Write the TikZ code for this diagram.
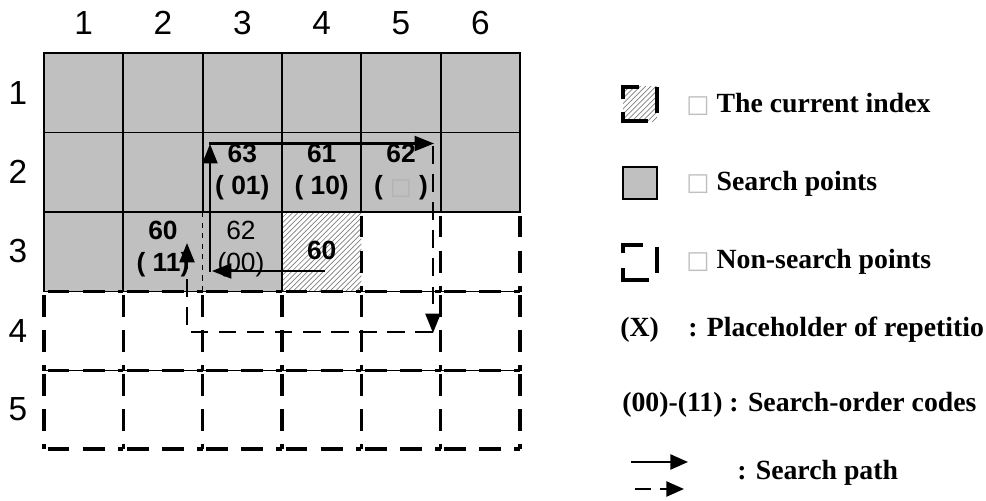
\documentclass[tikz,border=0pt]{standalone}
\usepackage{fontspec}
\setmainfont{Liberation Serif}
\newfontfamily\arialf{Liberation Sans}
\newfontfamily\dejavuf{DejaVu Sans}
\usetikzlibrary{arrows.meta,patterns}
\definecolor{cellgray}{RGB}{192,192,192}
\begin{document}
\begin{tikzpicture}[x=0.02cm,y=-0.02cm,
  lab/.style={font=\arialf\fontsize{19}{22}\selectfont, inner sep=0pt},
  cellb/.style={font=\arialf\bfseries\fontsize{15}{18.7}\selectfont, align=center, inner sep=0pt},
  cellr/.style={font=\arialf\fontsize{15}{18.7}\selectfont, align=center, inner sep=0pt},
  leg/.style={font=\bfseries\fontsize{15.8}{18}\selectfont, anchor=west, inner sep=0pt},
  solidgrid/.style={line width=1.1pt},
  dgrid/.style={line width=1.8pt, dash pattern=on 12.5pt off 7.5pt, dash phase=-2pt},
  thinline/.style={line width=0.5pt},
  legline/.style={line width=1.9pt},
  pathsolid/.style={line width=1.2pt, -{Triangle[length=11pt,width=8.5pt]}},
  pathdash/.style={line width=1.4pt, dash pattern=on 10pt off 6pt, -{Triangle[length=11pt,width=8.5pt]}}]
\clip (0,0) rectangle (986,500);
\fill[white] (0,0) rectangle (986,500);

% fills
\fill[cellgray] (44,53) rectangle (520,212);
\fill[cellgray] (44,212) rectangle (282,291.5);
\fill[pattern=north east lines, pattern color=gray] (282,212) rectangle (361.33,291.5);

% thin connecting lines under inner dashed borders
\draw[thinline] (44,291.5) -- (520,291.5);
\draw[thinline] (44,370.5) -- (520,370.5);

% dashed borders (non-search points)
\foreach \x in {361.33,440.67,520}
  \draw[dgrid] (\x,212) -- (\x,291.5);
\foreach \ya/\yb in {291.5/370.5,370.5/449}
  \foreach \x in {44,123.33,202.67,282,361.33,440.67,520}
    \draw[dgrid] (\x,\ya) -- (\x,\yb);
\foreach \y in {291.5,370.5,449}
  \foreach \xa/\xb in {44/123.33,123.33/202.67,202.67/282,282/361.33,361.33/440.67,440.67/520}
    \draw[dgrid] (\xa,\y) -- (\xb,\y);

% solid grid (search points)
\draw[solidgrid] (44,53) rectangle (520,212);
\draw[solidgrid] (44,132.5) -- (520,132.5);
\foreach \x in {123.33,202.67,282,361.33,440.67}
  \draw[solidgrid] (\x,53) -- (\x,212);
\foreach \x in {44,123.33,282}
  \draw[solidgrid] (\x,212) -- (\x,291.5);
\draw[solidgrid] (202.67,291.5) -- (282,291.5);
\draw[thinline, dashed] (202.67,212) -- (202.67,291.5);

% axis labels
\foreach \i/\x in {1/83.7,2/163,3/242.3,4/321.7,5/401,6/480.3}
  \node[lab] (c\i) at (\x,23) {\i};
\foreach \j/\y in {1/92.6,2/172,3/251.5,4/331,5/409.5}
  \node[lab] (r\j) at (18,\y) {\j};

% cell texts
\node[cellb] (t23) at (242.3,172) {63\\( 01)};
\node[cellb] (t24) at (321.7,172) {61\\( 10)};
\node[cellb] (t25) at (401,172) {62\\( {\dejavuf\mdseries\color{gray!60}\fontsize{13}{14}\selectfont □} )};
\node[cellb] (t32) at (163,249) {60\\( 11)};
\node[cellr] (t33) at (241,249) {62\\(00)};
\node[cellb] (t34) at (321.7,250) {60};

% search path
\coordinate (p1) at (325,271);
\coordinate (p2) at (212,271);
\coordinate (p3) at (210,272);
\coordinate (p4) at (210,144);
\coordinate (p5) at (209,143.5);
\coordinate (p6) at (434,143.5);
\coordinate (p7) at (433,146);
\coordinate (p8) at (433,333);
\coordinate (p9) at (433,332);
\coordinate (p10) at (187,332);
\coordinate (p11) at (187,243);
\draw[pathsolid] (p1) -- (p2);
\draw[pathsolid] (p3) -- (p4);
\draw[pathsolid] (p5) -- (p6);
\draw[pathdash] (p7) -- (p8);
\draw[pathdash] (p9) -- (p10) -- (p11);

% legend icons
\fill[pattern=north east lines, pattern color=gray] (623,87) rectangle (657,121);
\draw[legline] (623,99) -- (623,87) -- (639,87);
\draw[legline] (623,112) -- (623,121) -- (648,121);
\draw[legline] (657,87) -- (657,113);
\draw[line width=1.3pt, fill=cellgray] (623,167) rectangle (657,199);
\draw[legline] (623,253) -- (623,245) -- (643,245);
\draw[legline] (623,268) -- (623,280) -- (649,280);
\draw[legline] (657,247) -- (657,273);

% legend texts
\node[leg] (l1) at (686,104) {{\dejavuf\mdseries\color{gray!50}\fontsize{14}{14}\selectfont □}\hspace{4pt}The current index};
\node[leg] (l2) at (686,184) {{\dejavuf\mdseries\color{gray!50}\fontsize{14}{14}\selectfont □}\hspace{4pt}Search points};
\node[leg] (l3) at (686,262) {{\dejavuf\mdseries\color{gray!50}\fontsize{14}{14}\selectfont □}\hspace{4pt}Non-search points};
\node[leg] (l4a) at (620,330) {(X)};
\node[leg] (l4b) at (688,330) {: Placeholder of repetitio};
\node[leg] (l5) at (622,405) {(00)-(11) : Search-order codes};
\node[leg] (l6) at (737,473) {: Search path};
\coordinate (s1) at (631,462);
\coordinate (s2) at (688,462);
\coordinate (d1) at (635,489);
\coordinate (d2) at (684,489);
\draw[line width=1.3pt, -{Triangle[length=10pt,width=8.5pt]}] (s1) -- (s2);
\draw[line width=1.3pt, dash pattern=on 9pt off 5pt, -{Triangle[length=10pt,width=8.5pt]}] (d1) -- (d2);
\end{tikzpicture}
\end{document}
